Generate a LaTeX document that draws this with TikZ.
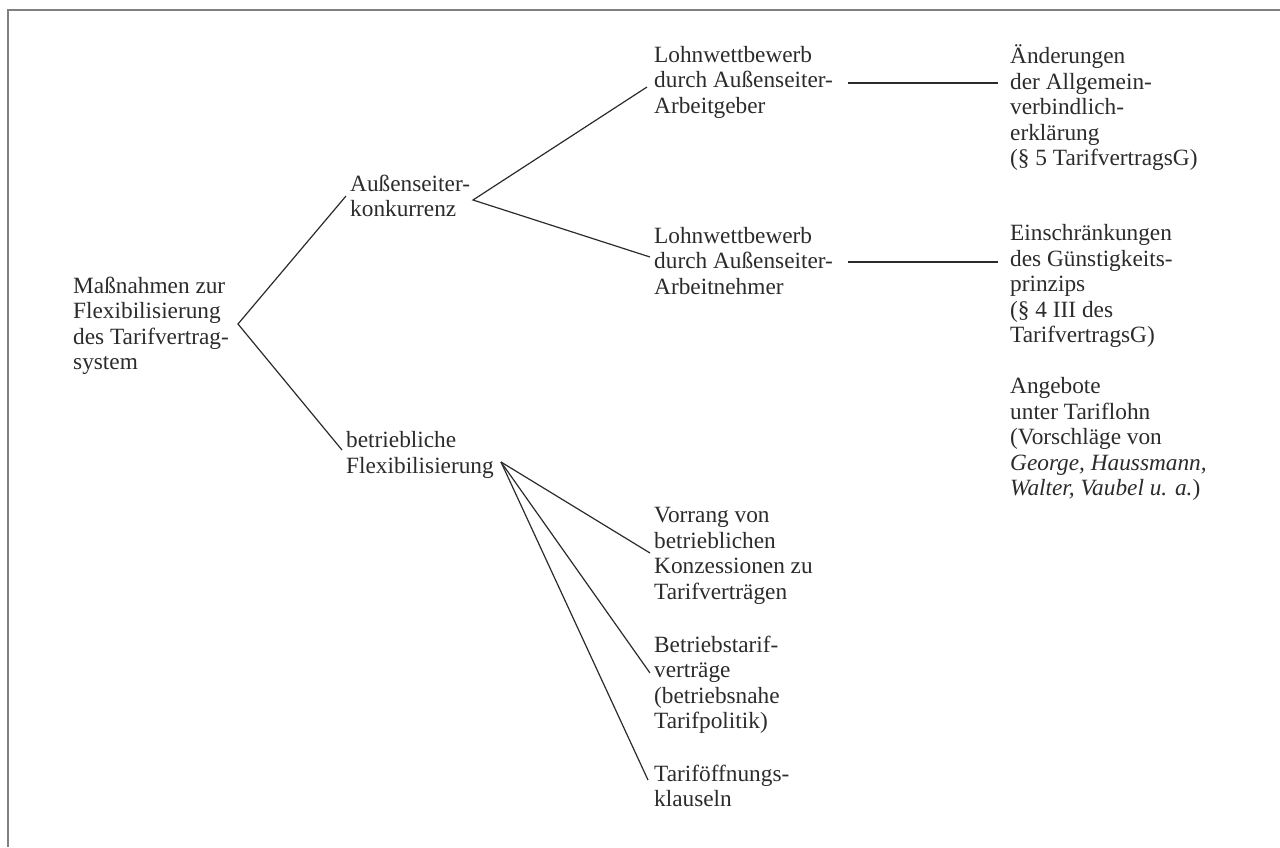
\documentclass[tikz,border=0pt]{standalone}
\usepackage{fontspec}
\setmainfont{Liberation Serif}
\usetikzlibrary{calc}
\definecolor{ink}{HTML}{2B2B2B}
\definecolor{framecol}{HTML}{808080}
\tikzset{
  lbl/.style={anchor=west, inner sep=0pt, align=left, text=ink,
    font=\fontsize{23.3}{25.5}\selectfont},
  conn/.style={draw=ink, line width=1.2pt},
}
\begin{document}
\begin{tikzpicture}[x=1pt, y=-1pt]
\useasboundingbox (0,0) rectangle (1280,847);
\draw[framecol, line width=1.5pt] (1280,10) -- (8,10) -- (8,847);

\node[lbl] (root) at (73,326) {Maßnahmen zur\\Flexibilisierung\\des Tarifvertrag-\\system};
\node[lbl] (aus) at (350,196) {Außenseiter-\\konkurrenz};
\node[lbl] (betr) at (346,455) {betriebliche\\Flexibilisierung};
\node[lbl] (lw1) at (654,82) {Lohnwettbewerb\\durch Außenseiter-\\Arbeitgeber};
\node[lbl] (lw2) at (654,261) {Lohnwettbewerb\\durch Außenseiter-\\Arbeitnehmer};
\node[lbl] (aend) at (1010,108) {Änderungen\\der Allgemein-\\verbindlich-\\erklärung\\(§ 5 TarifvertragsG)};
\node[lbl] (einsch) at (1010,286) {Einschränkungen\\des Günstigkeits-\\prinzips\\(§ 4 III des\\TarifvertragsG)};
\node[lbl] (angeb) at (1010,439) {Angebote\\unter Tariflohn\\(Vorschläge von\\\textit{George, Haussmann,}\\\textit{Walter, Vaubel u. a.})};
\node[lbl] (vorr) at (654,556) {Vorrang von\\betrieblichen\\Konzessionen zu\\Tarifverträgen};
\node[lbl] (btv) at (654,685) {Betriebstarif-\\verträge\\(betriebsnahe\\Tarifpolitik)};
\node[lbl] (toff) at (654,786) {Tariföffnungs-\\klauseln};

\draw[conn] ($(aus.west)+(-4,0)$) -- ($(root.west)+(165,-2)$) -- ($(betr.west)+(-4,-5)$);
\draw[conn] ($(lw1.west)+(-7,5)$) -- ($(aus.west)+(123,4)$) -- ($(lw2.west)+(-4,-4)$);
\draw[conn] ($(lw1.west)+(194,1)$) -- ($(aend.west)+(-12,-25)$);
\draw[conn] ($(lw2.west)+(194,1)$) -- ($(einsch.west)+(-12,-24)$);
\draw[conn] ($(vorr.west)+(-4,-3)$) -- ($(betr.west)+(155,7)$);
\draw[conn] ($(btv.west)+(-4,-12)$) -- ($(betr.west)+(155,7)$);
\draw[conn] ($(toff.west)+(-6,-6)$) -- ($(betr.west)+(155,7)$);
\end{tikzpicture}
\end{document}
